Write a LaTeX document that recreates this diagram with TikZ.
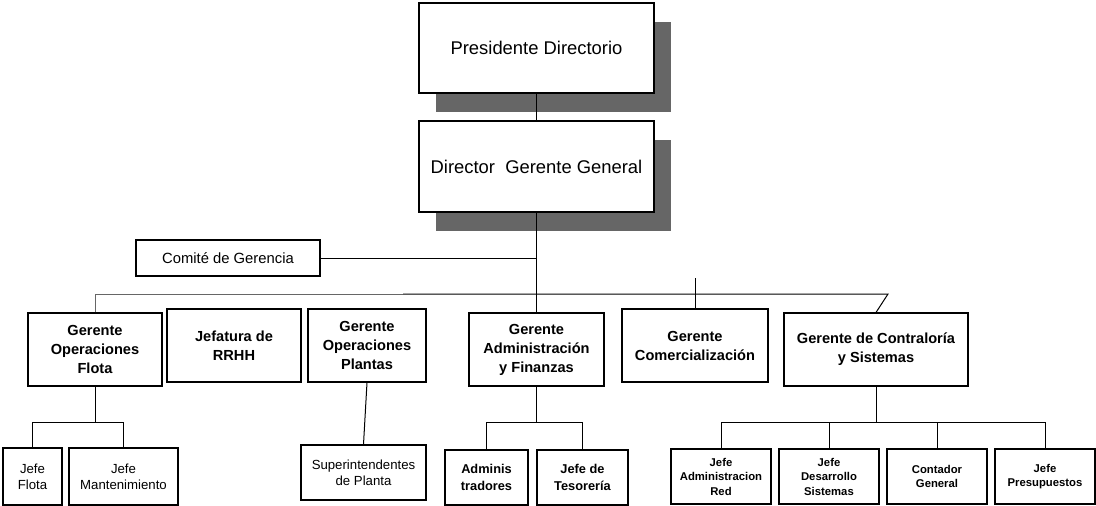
\documentclass[tikz,border=0pt]{standalone}
\usepackage{fontspec}
\setmainfont{Liberation Sans}
\usetikzlibrary{shadows}
\definecolor{shd}{HTML}{666666}
\begin{document}
\begin{tikzpicture}[x=1pt,y=-1pt,
  box/.style={draw, line width=1.1pt, fill=white, inner sep=0pt, align=center, anchor=center},
  topbox/.style={box, minimum width=235pt, font=\fontsize{18.4}{22}\selectfont,
    drop shadow={shadow xshift=17pt, shadow yshift=-19pt, fill=shd, opacity=1}},
  midbox/.style={box, minimum height=73pt, font=\fontsize{14.6}{19}\selectfont\bfseries},
  lowreg/.style={box, font=\fontsize{13.2}{16}\selectfont},
  lowbold/.style={box, line width=1.5pt, minimum height=55pt, font=\fontsize{12.8}{17}\selectfont\bfseries},
  smallbold/.style={box, line width=1.5pt, minimum width=100pt, minimum height=55pt, font=\fontsize{11.3}{14.5}\selectfont\bfseries},
  conn/.style={line width=1pt}]
\useasboundingbox (0,0) rectangle (1096,506);

% top level
\node[topbox, minimum height=90pt] (pres) at (536.5,48) {Presidente Directorio};
\node[topbox, minimum height=91pt] (dir) at (536.5,166.5) {Director\ \ Gerente General};

% committee
\node[box, minimum width=184pt, minimum height=36pt, font=\fontsize{14.8}{18}\selectfont] (comite) at (228,258) {Comité de Gerencia};

% managers
\node[midbox, minimum width=134pt] (flota) at (95,349.5) {Gerente\\Operaciones\\Flota};
\node[midbox, minimum width=134pt] (rrhh) at (234,345.5) {Jefatura de\\RRHH};
\node[midbox, minimum width=118pt] (plantas) at (367,345.5) {Gerente\\Operaciones\\Plantas};
\node[midbox, minimum width=135pt] (adminfin) at (536.5,349.5) {Gerente\\Administración\\y Finanzas};
\node[midbox, minimum width=146pt] (comer) at (695,345.5) {Gerente\\Comercialización};
\node[midbox, minimum width=184pt] (contra) at (876,349.5) {Gerente de Contraloría\\y Sistemas};

% lower level
\node[lowreg, minimum width=59pt, minimum height=57pt] (jflota) at (32.5,476.5) {Jefe\\Flota};
\node[lowreg, minimum width=109pt, minimum height=57pt] (jmant) at (123.5,476.5) {Jefe\\Mantenimiento};
\node[lowreg, minimum width=125pt, minimum height=55pt] (super) at (363.5,472.5) {Superintendentes\\de Planta};
\node[lowbold, minimum width=83pt] (admins) at (486.5,477.5) {Adminis\\tradores};
\node[lowbold, minimum width=91pt] (teso) at (582.5,477.5) {Jefe de\\Tesorería};
\node[smallbold] (jred) at (721,476.5) {Jefe\\Administracion\\Red};
\node[smallbold] (jdes) at (829,476.5) {Jefe\\Desarrollo\\Sistemas};
\node[smallbold] (cont) at (937,476.5) {Contador\\General};
\node[smallbold] (jpres) at (1045,476.5) {Jefe\\Presupuestos};

% connectors
\coordinate (barR) at (888,294);
\coordinate (barM) at (403,294);
\coordinate (comtop) at (695,278);
\draw[conn] (pres.south) -- (dir.north);
\draw[conn] (dir.south) -- (adminfin.north);
\draw[conn] (comite.east) -- (comite.east -| dir.south);
\draw[conn, black!60] (flota.north) -- (flota.north |- barM) -- (barM);
\draw[conn] (barM) -- (barR) -- (contra.north);
\draw[conn] (comtop) -- (comer.north);
\draw[conn] (plantas.south) -- (super.north);

\draw[conn] (flota.south) -- ++(0,36) coordinate (f1);
\draw[conn] (jflota.north) -- (jflota.north |- f1) -- (jmant.north |- f1) -- (jmant.north);

\draw[conn] (adminfin.south) -- ++(0,36) coordinate (a1);
\draw[conn] (admins.north) -- (admins.north |- a1) -- (teso.north |- a1) -- (teso.north);

\draw[conn] (contra.south) -- ++(0,36) coordinate (c1);
\draw[conn] (jred.north) -- (jred.north |- c1) -- (jpres.north |- c1) -- (jpres.north);
\draw[conn] (jdes.north) -- (jdes.north |- c1);
\draw[conn] (cont.north) -- (cont.north |- c1);
\end{tikzpicture}
\end{document}
